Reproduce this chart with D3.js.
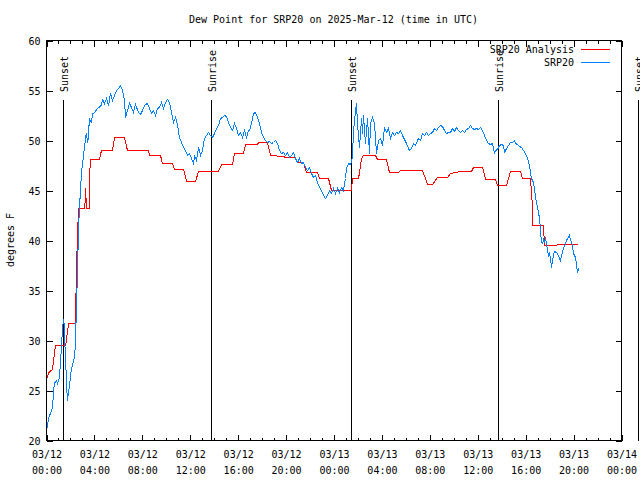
<!DOCTYPE html>
<html>
<head>
<meta charset="utf-8">
<script src="https://cdn.jsdelivr.net/npm/d3@7"></script>
<style>
  html, body { margin: 0; padding: 0; background: #fff; }
  svg { display: block; }
  text { font-family: "DejaVu Sans Mono", monospace; font-size: 10px; fill: #000; }
</style>
</head>
<body>
<svg id="chart" width="640" height="480"></svg>
<script>
// ---------------- DATA ----------------
const chartTitle = "Dew Point for SRP20 on 2025-Mar-12 (time in UTC)";
const yAxisTitle = "degrees F";
const seriesNames = ["SRP20 Analysis", "SRP20"];
const seriesColors = ["#ff0000", "#0080ff"];
const baseTimeUTC = Date.UTC(2025, 2, 12, 0, 0);   // 2025-03-12 00:00 UTC
const xDomainHours = [0, 48];
const yTickValues = [20, 25, 30, 35, 40, 45, 50, 55, 60];
const xMajorTickHours = [0, 4, 8, 12, 16, 20, 24, 28, 32, 36, 40, 44, 48];

// sunrise / sunset markers (hours after 03/12 00:00 UTC)
const sunEventHours = [1.42, 13.77, 25.46, 37.73, 49.45];
const sunEventNames = ["Sunset", "Sunrise", "Sunset", "Sunrise", "Sunset"];

// SRP20 Analysis (red): [hour, degF]
const analysisSeries = [
  [0.05,26.3],[0.2,26.8],[0.5,27.1],[0.6,28.1],[0.75,29.5],[1.6,29.5],[1.73,30.7],[1.86,31.7],[2.42,31.7],
  [2.50,37.2],[2.67,43.2],[3.20,43.2],[3.26,45.2],[3.34,43.2],[3.55,43.2],[3.65,48.1],[4.42,48.1],[4.59,49.0],
  [5.51,49.0],[5.68,50.3],[6.51,50.3],[6.76,49.0],[8.51,49.0],[8.60,48.5],[9.52,48.5],[9.68,47.7],[10.52,47.7],
  [10.69,47.1],[11.44,47.1],[11.69,45.9],[12.44,45.9],[12.69,46.9],[14.36,46.9],[14.61,47.6],[15.53,47.6],
  [15.69,48.7],[16.45,48.7],[16.61,49.6],[17.61,49.6],[17.70,49.8],[18.45,49.8],[18.70,48.5],[19.78,48.4],
  [19.95,48.3],[20.79,48.3],[20.95,47.8],[21.45,47.8],[21.70,46.8],[22.62,46.8],[22.79,46.2],[23.54,46.2],
  [23.79,45.0],[25.46,45.0],[25.54,46.2],[26.05,46.2],[26.30,48.2],[26.46,48.5],[27.46,48.5],[27.63,48.1],
  [28.38,48.1],[28.63,46.8],[29.38,46.8],[29.55,47.0],[31.39,47.0],[31.81,45.6],[32.22,45.6],[32.64,46.3],
  [33.48,46.3],[33.73,46.7],[34.56,46.9],[35.48,46.9],[35.65,47.3],[36.40,47.3],[36.65,46.1],[37.48,46.1],
  [37.65,45.5],[38.40,45.5],[38.73,46.9],[39.57,46.9],[39.74,46.2],[40.40,46.2],[40.53,44.0],[40.57,41.5],
  [41.49,41.5],[41.57,39.5],[42.57,39.5],[42.66,39.6],[44.41,39.6]
];

// SRP20 observed (blue): [hour, degF]
const observedSeries = [
  [0.05,21.3],[0.19,22.3],[0.33,22.7],[0.47,23.2],[0.56,24.2],[0.61,25.2],[0.67,25.7],[0.81,26.0],[0.92,25.7],
  [1.03,26.0],[1.14,27.3],[1.25,29.3],[1.34,31.4],[1.45,32.1],[1.50,30.7],[1.59,28.0],[1.70,25.3],[1.73,24.0],
  [1.78,24.3],[1.86,25.0],[1.95,25.8],[2.03,26.7],[2.11,27.2],[2.20,27.7],[2.28,28.1],[2.36,28.5],[2.42,30.0],
  [2.50,33.3],[2.59,37.0],[2.67,41.0],[2.75,43.3],[2.84,45.0],[2.92,46.8],[3.09,48.5],[3.31,50.7],[3.45,49.8],
  [3.59,52.2],[3.73,51.8],[3.87,52.7],[4.01,52.8],[4.26,53.2],[4.57,53.5],[4.67,54.1],[4.84,53.7],[5.01,54.2],
  [5.18,53.5],[5.34,54.7],[5.51,54.0],[5.68,54.5],[5.84,55.0],[6.01,55.2],[6.18,55.5],[6.34,55.0],[6.51,54.0],
  [6.60,52.3],[6.76,53.0],[6.93,53.7],[7.10,53.3],[7.26,52.8],[7.43,53.6],[7.68,52.8],[7.85,52.6],[8.01,53.0],
  [8.26,53.6],[8.43,53.7],[8.60,53.2],[8.77,52.7],[8.93,53.0],[9.10,52.5],[9.27,53.2],[9.43,53.3],[9.60,53.8],
  [9.77,53.2],[9.93,53.8],[10.10,54.1],[10.27,53.8],[10.43,52.8],[10.60,51.8],[10.77,52.3],[10.94,51.5],
  [11.10,50.3],[11.27,49.8],[11.44,49.3],[11.60,49.0],[11.77,48.5],[11.94,48.7],[12.10,48.2],[12.27,47.7],
  [12.36,48.5],[12.52,48.0],[12.69,49.3],[12.86,48.5],[13.02,49.0],[13.19,50.2],[13.36,50.5],[13.52,50.8],
  [13.69,50.5],[13.86,50.3],[14.02,50.7],[14.19,51.2],[14.36,51.5],[14.53,52.2],[14.69,52.3],[14.86,52.5],
  [15.03,52.4],[15.19,51.8],[15.36,51.3],[15.53,51.0],[15.69,51.7],[15.86,51.2],[16.03,50.5],[16.20,50.8],
  [16.36,50.3],[16.53,51.0],[16.70,50.3],[16.86,51.0],[16.95,51.0],[17.11,51.7],[17.28,52.7],[17.45,52.8],
  [17.61,52.3],[17.78,51.7],[17.95,50.8],[18.12,50.3],[18.28,50.0],[18.45,49.8],[18.62,49.9],[18.78,49.7],
  [18.95,49.8],[19.12,50.0],[19.28,49.7],[19.45,49.0],[19.62,48.7],[19.78,48.8],[19.95,48.5],[20.12,48.8],
  [20.29,48.3],[20.45,48.5],[20.62,48.8],[20.79,48.2],[20.95,47.8],[21.12,48.2],[21.29,47.7],[21.45,47.8],
  [21.62,47.3],[21.79,47.0],[21.96,47.3],[22.12,46.7],[22.29,46.3],[22.46,46.5],[22.62,45.8],[22.79,45.3],
  [22.96,45.0],[23.12,44.5],[23.29,44.2],[23.46,44.5],[23.62,45.0],[23.79,44.7],[23.96,45.2],[24.13,44.7],
  [24.29,45.2],[24.46,44.8],[24.63,45.3],[24.79,45.0],[24.96,46.2],[25.04,47.2],[25.21,47.7],[25.38,47.6],
  [25.54,48.3],[25.63,51.0],[25.80,53.0],[25.88,53.7],[25.96,51.7],[26.13,49.3],[26.30,52.2],[26.38,50.7],
  [26.46,52.5],[26.63,49.7],[26.80,52.2],[26.96,48.7],[27.05,51.7],[27.21,52.3],[27.38,51.7],[27.55,48.7],
  [27.72,50.0],[27.88,50.2],[28.05,49.5],[28.22,51.3],[28.38,50.8],[28.55,51.2],[28.72,50.2],[28.88,50.8],
  [29.05,50.5],[29.22,50.8],[29.38,50.7],[29.55,51.0],[29.80,50.3],[30.05,49.7],[30.30,49.0],[30.47,49.2],
  [30.64,49.7],[30.80,49.5],[31.05,50.2],[31.22,50.0],[31.39,50.7],[31.56,50.5],[31.72,50.8],[31.89,50.5],
  [32.06,50.7],[32.22,50.8],[32.39,51.2],[32.56,51.0],[32.72,51.3],[32.89,51.5],[33.06,51.4],[33.22,51.0],
  [33.39,50.7],[33.56,50.8],[33.73,50.8],[33.89,51.2],[34.06,50.9],[34.23,51.3],[34.39,51.0],[34.56,50.8],
  [34.73,51.0],[34.89,50.8],[35.06,51.1],[35.23,51.2],[35.40,51.5],[35.56,51.2],[35.73,51.1],[35.90,51.2],
  [36.06,51.1],[36.23,51.3],[36.40,51.0],[36.56,50.5],[36.73,50.0],[36.90,49.7],[37.07,49.6],[37.23,49.7],
  [37.32,49.2],[37.40,48.7],[37.48,49.0],[37.65,49.1],[37.82,49.5],[37.98,49.6],[38.15,49.5],[38.23,48.8],
  [38.40,49.2],[38.57,49.5],[38.73,49.8],[38.90,49.8],[39.07,50.0],[39.15,49.7],[39.32,49.6],[39.49,49.4],
  [39.65,49.3],[39.82,49.0],[39.99,48.7],[40.15,48.2],[40.32,47.5],[40.40,46.8],[40.49,46.2],[40.65,45.8],
  [40.74,45.2],[40.82,44.3],[40.99,43.3],[41.16,42.2],[41.24,41.0],[41.32,39.8],[41.41,39.7],[41.49,40.1],
  [41.57,39.9],[41.66,40.2],[41.74,39.7],[41.82,39.0],[41.91,38.5],[41.99,38.7],[42.07,38.2],[42.16,37.3],
  [42.24,38.0],[42.32,38.5],[42.41,38.9],[42.57,38.8],[42.74,38.5],[42.83,38.2],[42.91,37.9],[42.99,38.5],
  [43.08,38.8],[43.16,39.3],[43.24,39.4],[43.33,39.7],[43.41,40.0],[43.49,40.2],[43.58,40.3],[43.66,40.5],
  [43.74,40.1],[43.83,39.8],[43.91,39.5],[43.99,38.7],[44.16,38.3],[44.24,37.6],[44.33,36.8],[44.41,37.2]
];

// ---------------- CHART ----------------
const W = 640, H = 480;
const margin = { left: 46, right: 19, top: 40, bottom: 40 };
const toDate = h => new Date(baseTimeUTC + h * 3600 * 1000);

const svg = d3.select("#chart");
const x = d3.scaleUtc()
  .domain(xDomainHours.map(toDate))
  .range([margin.left, W - margin.right]);
const y = d3.scaleLinear()
  .domain([20, 60])
  .range([H - margin.bottom, margin.top]);

const g = svg.append("g").attr("transform", "translate(0.5,0.5)");

// minor hourly ticks (bottom & top)
const minorTicks = d3.utcHour.every(1).range(toDate(0), toDate(48.01));
g.append("g")
  .attr("transform", `translate(0,${y(20)})`)
  .call(d3.axisBottom(x).tickValues(minorTicks).tickSizeInner(-3).tickSizeOuter(0).tickFormat(""))
  .call(s => s.select(".domain").remove());
g.append("g")
  .attr("transform", `translate(0,${y(60)})`)
  .call(d3.axisBottom(x).tickValues(minorTicks).tickSizeInner(3).tickSizeOuter(0).tickFormat(""))
  .call(s => s.select(".domain").remove());

// major ticks with labels (bottom)
const fmtDate = d3.utcFormat("%m/%d");
const fmtTime = d3.utcFormat("%H:%M");
const xAxisBottom = g.append("g")
  .attr("transform", `translate(0,${y(20)})`)
  .call(d3.axisBottom(x).tickValues(xMajorTickHours.map(toDate))
    .tickSizeInner(-6).tickSizeOuter(0).tickPadding(0).tickFormat(""))
  .call(s => s.select(".domain").remove());
xAxisBottom.selectAll(".tick text").remove();
xAxisBottom.selectAll(".tick").each(function(d) {
  const t = d3.select(this).append("text")
    .attr("fill", "#000").attr("text-anchor", "middle")
    .style("font-family", "DejaVu Sans Mono").style("font-size", "10px");
  t.append("tspan").attr("x", 0).attr("y", 17).text(fmtDate(d));
  t.append("tspan").attr("x", 0).attr("y", 33).text(fmtTime(d));
});
g.append("g")
  .attr("transform", `translate(0,${y(60)})`)
  .call(d3.axisBottom(x).tickValues(xMajorTickHours.map(toDate)).tickSizeInner(6).tickSizeOuter(0).tickFormat(""))
  .call(s => s.select(".domain").remove());

// y axis left (labels) and right (mirror)
g.append("g")
  .attr("transform", `translate(${margin.left},0)`)
  .call(d3.axisLeft(y).tickValues(yTickValues).tickSizeInner(-6).tickSizeOuter(0).tickPadding(6).tickFormat(d3.format("d")))
  .call(s => s.select(".domain").remove())
  .call(s => s.selectAll(".tick text").attr("fill", "#000")
    .style("font-family", "DejaVu Sans Mono").style("font-size", "10px").attr("dy", "0.35em"));
g.append("g")
  .attr("transform", `translate(${W - margin.right},0)`)
  .call(d3.axisRight(y).tickValues(yTickValues).tickSizeInner(-6).tickSizeOuter(0).tickFormat(""))
  .call(s => s.select(".domain").remove());

g.selectAll(".tick line").attr("stroke", "#000").attr("shape-rendering", "crispEdges");

// frame
g.append("rect")
  .attr("x", margin.left).attr("y", margin.top)
  .attr("width", W - margin.right - margin.left)
  .attr("height", H - margin.bottom - margin.top)
  .attr("fill", "none").attr("stroke", "#000").attr("shape-rendering", "crispEdges");

// sunrise / sunset lines
sunEventHours.forEach((h, i) => {
  const sx = Math.round(x(toDate(h)));
  g.append("line")
    .attr("x1", sx).attr("x2", sx)
    .attr("y1", y(54.1)).attr("y2", y(20))
    .attr("stroke", "#000").attr("shape-rendering", "crispEdges");
  svg.append("text")
    .attr("transform", `translate(${sx + 5},${y(54.8)}) rotate(-90)`)
    .attr("text-anchor", "start")
    .text(sunEventNames[i]);
});

// lines
const line = d3.line()
  .x(d => x(toDate(d[0])))
  .y(d => y(d[1]));
g.append("path").datum(analysisSeries)
  .attr("d", line).attr("fill", "none")
  .attr("stroke", seriesColors[0]).attr("stroke-width", 1)
  .attr("shape-rendering", "crispEdges");
g.append("path").datum(observedSeries)
  .attr("d", line).attr("fill", "none")
  .attr("stroke", seriesColors[1]).attr("stroke-width", 1)
  .attr("shape-rendering", "crispEdges");

// title
svg.append("text")
  .attr("x", (margin.left + W - margin.right) / 2).attr("y", 23)
  .attr("text-anchor", "middle").text(chartTitle);

// y-axis title
svg.append("text")
  .attr("transform", `translate(14,${(margin.top + H - margin.bottom) / 2}) rotate(-90)`)
  .attr("text-anchor", "middle").text(yAxisTitle);

// legend
const legend = svg.append("g");
seriesNames.forEach((name, i) => {
  const ly = 49 + i * 13;
  legend.append("text")
    .attr("x", 574).attr("y", ly + 4)
    .attr("text-anchor", "end").text(name);
  legend.append("line")
    .attr("x1", 581).attr("x2", 610)
    .attr("y1", ly + 0.5).attr("y2", ly + 0.5)
    .attr("stroke", seriesColors[i]).attr("stroke-width", 1)
    .attr("shape-rendering", "crispEdges");
});
</script>
</body>
</html>
